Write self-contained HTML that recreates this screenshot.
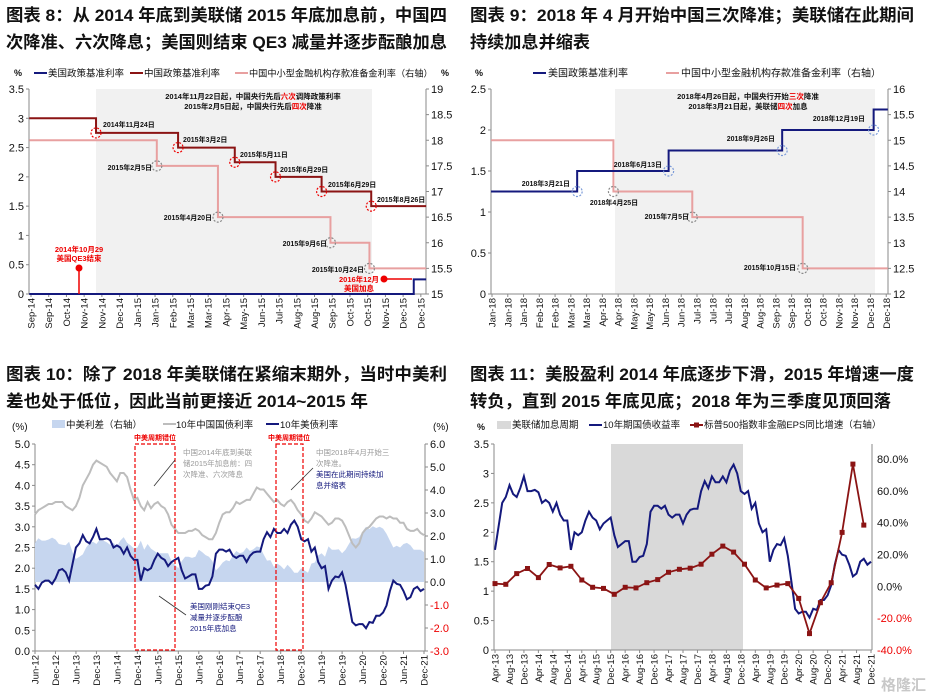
<!DOCTYPE html>
<html><head><meta charset="utf-8"><title>中美利率周期对比</title>
<style>
html,body{margin:0;padding:0;background:#fff;}
svg{display:block;font-family:"Liberation Sans","Noto Sans CJK SC",sans-serif;}
</style></head>
<body>
<svg id="root" width="928" height="699" viewBox="0 0 928 699" xmlns="http://www.w3.org/2000/svg">
<rect width="928" height="699" fill="#fff"/>
<g font-weight="bold" font-size="17" fill="#111">
<text x="6" y="21" textLength="441" lengthAdjust="spacingAndGlyphs">图表 8：从 2014 年底到美联储 2015 年底加息前，中国四</text>
<text x="6" y="48" textLength="441" lengthAdjust="spacingAndGlyphs">次降准、六次降息；美国则结束 QE3 减量并逐步酝酿加息</text>
<text x="470" y="21" textLength="444" lengthAdjust="spacingAndGlyphs">图表 9：2018 年 4 月开始中国三次降准；美联储在此期间</text>
<text x="470" y="48" textLength="120" lengthAdjust="spacingAndGlyphs">持续加息并缩表</text>
<text x="6" y="380" textLength="441" lengthAdjust="spacingAndGlyphs">图表 10：除了 2018 年美联储在紧缩末期外，当时中美利</text>
<text x="6" y="407" textLength="362" lengthAdjust="spacingAndGlyphs">差也处于低位，因此当前更接近 2014~2015 年</text>
<text x="470" y="380" textLength="444" lengthAdjust="spacingAndGlyphs">图表 11：美股盈利 2014 年底逐步下滑，2015 年增速一度</text>
<text x="470" y="407" textLength="421" lengthAdjust="spacingAndGlyphs">转负，直到 2015 年底见底；2018 年为三季度见顶回落</text>
</g>
</svg>
<script>
// ---------- chart 8 data ----------
const c8Labels=["Sep-14","Sep-14","Oct-14","Nov-14","Nov-14","Dec-14","Jan-15","Jan-15","Feb-15","Mar-15","Mar-15","Apr-15","May-15","Jun-15","Jul-15","Aug-15","Aug-15","Sep-15","Oct-15","Oct-15","Nov-15","Dec-15","Dec-15"];
const c8CnBreaks=[3.67,8.3,11.5,13.8,16.4,19.2];
const c8CnLevels=[3,2.75,2.5,2.25,2,1.75,1.5];
const c8RrrBreaks=[7.1,10.55,16.9,19.1];
const c8RrrLevels=[18,17.5,16.5,16,15.5];
const c8UsBreaks=[21.6];
const c8UsLevels=[0,0.25];
const c8LeftTicks=[0,0.5,1,1.5,2,2.5,3,3.5];
const c8RightTicks=[15,15.5,16,16.5,17,17.5,18,18.5,19];
// ---------- chart 9 data ----------
const c9Labels=["Jan-18","Jan-18","Jan-18","Feb-18","Feb-18","Mar-18","Mar-18","Apr-18","Apr-18","May-18","May-18","Jun-18","Jun-18","Jul-18","Jul-18","Jul-18","Aug-18","Aug-18","Sep-18","Sep-18","Oct-18","Oct-18","Nov-18","Nov-18","Dec-18","Dec-18"];
const c9UsBreaks=[5.4,11.2,18.4,24.2];
const c9UsLevels=[1.25,1.5,1.75,2,2.25];
const c9RrrBreaks=[7.7,12.7,19.7];
const c9RrrLevels=[15,14,13.5,12.5];
const c9LeftTicks=[0,0.5,1,1.5,2,2.5];
const c9RightTicks=[12,12.5,13,13.5,14,14.5,15,15.5,16];
// ---------- chart 10 data (monthly Jun-12 .. Dec-21) ----------
const c10Labels=["Jun-12","Dec-12","Jun-13","Dec-13","Jun-14","Dec-14","Jun-15","Dec-15","Jun-16","Dec-16","Jun-17","Dec-17","Jun-18","Dec-18","Jun-19","Dec-19","Jun-20","Dec-20","Jun-21","Dec-21"];
const usYield=[1.6,1.5,1.65,1.7,1.7,1.62,1.75,
1.95,1.98,1.9,1.7,2.1,2.5,2.6,2.8,2.65,2.6,2.75,2.95,
2.7,2.7,2.72,2.68,2.5,2.55,2.5,2.35,2.5,2.3,2.2,2.2,
1.7,2.0,1.95,2.0,2.2,2.35,2.25,2.2,2.05,2.15,2.2,2.25,
1.95,1.75,1.8,1.85,1.85,1.5,1.5,1.58,1.6,1.8,2.35,2.45,
2.45,2.4,2.45,2.3,2.25,2.3,2.3,2.15,2.3,2.38,2.4,2.4,
2.7,2.87,2.75,2.95,2.85,2.85,2.95,2.85,3.05,3.15,3.0,2.7,
2.65,2.7,2.4,2.5,2.15,2.0,2.05,1.5,1.7,1.8,1.78,1.9,
1.6,1.15,0.7,0.62,0.65,0.65,0.55,0.7,0.68,0.85,0.85,0.93,
1.1,1.45,1.7,1.62,1.6,1.45,1.25,1.3,1.5,1.55,1.45,1.5];
const cnYield=[3.3,3.4,3.45,3.5,3.55,3.55,3.6,
3.6,3.6,3.5,3.45,3.4,3.5,3.7,4.0,4.15,4.3,4.5,4.6,
4.55,4.5,4.45,4.3,4.2,4.1,4.3,4.3,4.2,3.9,3.65,3.7,
3.5,3.4,3.6,3.45,3.55,3.6,3.5,3.45,3.3,3.05,2.95,2.85,
2.85,2.85,2.9,2.9,2.95,2.9,2.8,2.75,2.7,2.7,2.85,3.1,
3.3,3.35,3.35,3.45,3.6,3.55,3.6,3.65,3.65,3.8,3.95,3.9,
3.9,3.8,3.7,3.6,3.65,3.55,3.5,3.6,3.65,3.55,3.4,3.3,
3.15,3.1,3.2,3.35,3.3,3.25,3.15,3.05,3.1,3.2,3.2,3.15,
3.0,2.8,2.6,2.5,2.6,2.85,2.95,3.0,3.1,3.2,3.25,3.25,
3.2,3.25,3.2,3.2,3.1,3.1,2.95,2.9,2.9,2.95,2.85,2.8];
const c10LeftTicks=[0,0.5,1,1.5,2,2.5,3,3.5,4,4.5,5];
const c10RightTicks=[-3,-2,-1,0,1,2,3,4,5,6];
// ---------- chart 11 data ----------
const c11Labels=["Apr-13","Aug-13","Dec-13","Apr-14","Aug-14","Dec-14","Apr-15","Aug-15","Dec-15","Apr-16","Aug-16","Dec-16","Apr-17","Aug-17","Dec-17","Apr-18","Aug-18","Dec-18","Apr-19","Aug-19","Dec-19","Apr-20","Aug-20","Dec-20","Apr-21","Aug-21","Dec-21"];
const epsGrowth=[1.7,1.3,8,11.2,5.5,13.7,11.6,12.6,4,-0.6,-1.3,-5,-0.6,-1,2.3,4.2,8.8,10.7,11.4,13.9,20.2,25.3,21.5,13.9,4,-1,0.8,1.7,-7.6,-29.7,-10.3,2.3,33.9,76.8,38.5];
const c11LeftTicks=[0,0.5,1,1.5,2,2.5,3,3.5];
const c11RightTicks=[-40,-20,0,20,40,60,80];

const NS='http://www.w3.org/2000/svg';
const svg=document.getElementById('root');
const NAVY='#14197d',DRED='#8b1414',PINK='#e8a0a0',GRAY='#bdbdbd',AX='#8a8a8a';
function mk(tag,attrs,name,parent){
  const el=document.createElementNS(NS,tag);
  for(const k in attrs)el.setAttribute(k,attrs[k]);
  
  
  (parent||svg).appendChild(el);return el;}
function txt(x,y,s,size,name,extra){
  const el=mk('text',Object.assign({x:x,y:y,'font-size':size,fill:'#111'},extra||{}),name);
  el.textContent=s;return el;}
function lin(d0,d1,r0,r1){return v=>r0+(v-d0)*(r1-r0)/(d1-d0);}
function fmt(v,d){return d==null?String(v):v.toFixed(d);}
function axes(L,R,T,B,name){
  mk('line',{x1:L,y1:T,x2:L,y2:B,stroke:AX,'stroke-width':1},name+'-left-axis');
  mk('line',{x1:R,y1:T,x2:R,y2:B,stroke:AX,'stroke-width':1},name+'-right-axis');
  mk('line',{x1:L,y1:B,x2:R,y2:B,stroke:AX,'stroke-width':1},name+'-x-axis');}
function yTicks(ticks,scale,x,side,name,dec,negRed){
  ticks.forEach(v=>{const y=scale(v);
    mk('line',{x1:side==='l'?x-3:x,y1:y,x2:side==='l'?x:x+3,y2:y,stroke:AX},name+'-tick');
    const lab=(negRed&&v<0)?{fill:'#e00'}:{};
    txt(side==='l'?x-5:x+5,y+4,fmt(v,dec),11,name+'-label',Object.assign({'text-anchor':side==='l'?'end':'start'},lab));});}
function xLabels(labels,xf,yB,name){
  labels.forEach((s,i)=>{const x=xf(i);
    mk('line',{x1:x,y1:yB,x2:x,y2:yB+3,stroke:AX},name+'-tick');
    txt(x+3.5,yB+4,s,9.5,name+'-label',{'text-anchor':'end',transform:'rotate(-90 '+(x+3.5)+' '+(yB+4)+')'});});}
function stepPath(breaks,levels,xs,ys,start,end){
  let d='M'+xs(start)+' '+ys(levels[0]);
  breaks.forEach((b,i)=>{d+=' H'+xs(b)+' V'+ys(levels[i+1]);});
  return d+' H'+xs(end);}
function dashCircle(x,y,col,name){mk('circle',{cx:x,cy:y,r:5,fill:'none',stroke:col,'stroke-width':1.2,'stroke-dasharray':'2 1.5'},name);}
function legLine(x,y,col,w,name){mk('line',{x1:x,y1:y,x2:x+13,y2:y,stroke:col,'stroke-width':w||2.5},name);}

// ================= CHART 8 =================
(function(){
  const L=29,R=426,T=89,B=294;
  const xs=lin(0,1,31,48.72), yl=lin(0,3.5,B,T), yr=lin(15,19,B,T);
  mk('rect',{x:96,y:T,width:276,height:B-T,fill:'#f1f1f1'},'c8-shade-easing-period');
  axes(L,R,T,B,'c8');
  yTicks(c8LeftTicks,yl,L,'l','c8-y-left');
  yTicks(c8RightTicks,yr,R,'r','c8-y-right');
  xLabels(c8Labels,xs,B,'c8-x');
  mk('path',{d:stepPath(c8RrrBreaks,c8RrrLevels,xs,yr,-0.1,22.3),fill:'none',stroke:PINK,'stroke-width':2},'c8-rrr-line');
  mk('path',{d:stepPath(c8CnBreaks,c8CnLevels,xs,yl,-0.1,22.3),fill:'none',stroke:DRED,'stroke-width':2},'c8-cn-policy-line');
  mk('path',{d:stepPath(c8UsBreaks,c8UsLevels,xs,yl,-0.1,22.3),fill:'none',stroke:NAVY,'stroke-width':2},'c8-us-policy-line');
  c8CnBreaks.forEach((b,i)=>dashCircle(xs(b),yl(c8CnLevels[i+1]),'#e00','c8-cn-cut-marker'));
  c8RrrBreaks.forEach((b,i)=>dashCircle(xs(b),yr(c8RrrLevels[i+1]),'#888','c8-rrr-cut-marker'));
  [["2014年11月24日",103,127],["2015年3月2日",183,142],["2015年5月11日",240,157],["2015年6月29日",280,172],["2015年6月29日",328,187],["2015年8月26日",377,202]].forEach(p=>txt(p[1],p[2],p[0],7,'c8-cn-date-note',{'font-weight':'bold'}));
  [["2015年2月5日",152,170],["2015年4月20日",212,220],["2015年9月6日",327,246],["2015年10月24日",364,272]].forEach(p=>txt(p[1],p[2],p[0],7,'c8-rrr-date-note',{'font-weight':'bold','text-anchor':'end'}));
  const n1=txt(253,99,'',7.5,'c8-header-note-1',{'font-weight':'bold','text-anchor':'middle'});
  n1.innerHTML='2014年11月22日起，中国央行先后<tspan fill="#e00">六次</tspan>调降政策利率';
  const n2=txt(253,109,'',7.5,'c8-header-note-2',{'font-weight':'bold','text-anchor':'middle'});
  n2.innerHTML='2015年2月5日起，中国央行先后<tspan fill="#e00">四次</tspan>降准';
  mk('line',{x1:79,y1:268,x2:79,y2:B,stroke:'#e00','stroke-width':1.5},'c8-qe3-end-stem');
  mk('circle',{cx:79,cy:268,r:3.5,fill:'#e00'},'c8-qe3-end-dot');
  txt(79,252,'2014年10月29',7.5,'c8-qe3-note',{'font-weight':'bold','text-anchor':'middle',fill:'#e00'});
  txt(79,261,'美国QE3结束',7.5,'c8-qe3-note',{'font-weight':'bold','text-anchor':'middle',fill:'#e00'});
  mk('line',{x1:384,y1:279,x2:412,y2:279,stroke:'#e00','stroke-width':1.5},'c8-hike-stem');
  mk('circle',{cx:384,cy:279,r:3.5,fill:'#e00'},'c8-hike-dot');
  txt(359,282,'2016年12月',7.5,'c8-hike-note',{'font-weight':'bold','text-anchor':'middle',fill:'#e00'});
  txt(359,291,'美国加息',7.5,'c8-hike-note',{'font-weight':'bold','text-anchor':'middle',fill:'#e00'});
  txt(14,76,'%',9,'c8-left-unit',{'font-weight':'bold'});
  txt(441,76,'%',9,'c8-right-unit',{'font-weight':'bold'});
  legLine(34,73,NAVY,2,'c8-legend-us-swatch'); txt(48,76.5,'美国政策基准利率',9.5,'c8-legend-us');
  legLine(130,73,DRED,2,'c8-legend-cn-swatch'); txt(144,76.5,'中国政策基准利率',9.5,'c8-legend-cn');
  legLine(235,73,PINK,2,'c8-legend-rrr-swatch'); txt(249,76.5,'中国中小型金融机构存款准备金利率（右轴）',9.2,'c8-legend-rrr');
})();

// ================= CHART 9 =================
(function(){
  const L=491,R=888,T=89,B=294;
  const xs=lin(0,1,492,507.77), yl=lin(0,2.5,B,T), yr=lin(12,16,B,T);
  mk('rect',{x:615,y:T,width:260,height:B-T,fill:'#f1f1f1'},'c9-shade-period');
  axes(L,R,T,B,'c9');
  yTicks(c9LeftTicks,yl,L,'l','c9-y-left');
  yTicks(c9RightTicks,yr,R,'r','c9-y-right');
  xLabels(c9Labels,xs,B,'c9-x');
  mk('path',{d:stepPath(c9RrrBreaks,c9RrrLevels,xs,yr,-0.06,25.1),fill:'none',stroke:PINK,'stroke-width':2},'c9-rrr-line');
  mk('path',{d:stepPath(c9UsBreaks,c9UsLevels,xs,yl,-0.06,25.1),fill:'none',stroke:NAVY,'stroke-width':2},'c9-us-policy-line');
  c9UsBreaks.forEach((b,i)=>dashCircle(xs(b),yl(c9UsLevels[i]),'#7a9ad8','c9-us-hike-marker'));
  c9RrrBreaks.forEach((b,i)=>dashCircle(xs(b),yr(c9RrrLevels[i+1]),'#888','c9-rrr-cut-marker'));
  [["2018年3月21日",570,186],["2018年6月13日",662,167],["2018年9月26日",775,141],["2018年12月19日",865,121],["2015年7月5日",689,219],["2015年10月15日",796,270]].forEach(p=>txt(p[1],p[2],p[0],7,'c9-date-note',{'font-weight':'bold','text-anchor':'end'}));
  txt(614,205,'2018年4月25日',7,'c9-date-note',{'font-weight':'bold','text-anchor':'middle'});
  const n1=txt(748,99,'',7.5,'c9-header-note-1',{'font-weight':'bold','text-anchor':'middle'});
  n1.innerHTML='2018年4月26日起，中国央行开始<tspan fill="#e00">三次</tspan>降准';
  const n2=txt(748,109,'',7.5,'c9-header-note-2',{'font-weight':'bold','text-anchor':'middle'});
  n2.innerHTML='2018年3月21日起，美联储<tspan fill="#e00">四次</tspan>加息';
  txt(475,76,'%',9,'c9-left-unit',{'font-weight':'bold'});
  legLine(533,73,NAVY,2,'c9-legend-us-swatch'); txt(548,76.5,'美国政策基准利率',10,'c9-legend-us');
  legLine(666,73,PINK,2,'c9-legend-rrr-swatch'); txt(681,76.5,'中国中小型金融机构存款准备金利率（右轴）',10,'c9-legend-rrr');
})();

// ================= CHART 10 =================
(function(){
  const L=35,R=425,T=444,B=651;
  const xs=lin(0,114,35,424), yl=lin(0,5,B,T), yr=lin(-3,6,B,T);
  axes(L,R,T,B,'c10');
  let d='M'+xs(0)+' '+yr(0);
  cnYield.forEach((v,i)=>{d+=' L'+xs(i).toFixed(1)+' '+yr(v-usYield[i]).toFixed(1);});
  d+=' L'+xs(114)+' '+yr(0)+' Z';
  mk('path',{d:d,fill:'#c6d6ef',stroke:'none'},'c10-spread-area');
  yTicks(c10LeftTicks,yl,L,'l','c10-y-left',1);
  yTicks(c10RightTicks,yr,R,'r','c10-y-right',1,true);
  c10Labels.forEach((s,i)=>{const x=xs(i*6);
    mk('line',{x1:x,y1:B,x2:x,y2:B+3,stroke:AX},'c10-x-tick');
    txt(x+3.5,B+4,s,9.5,'c10-x-label',{'text-anchor':'end',transform:'rotate(-90 '+(x+3.5)+' '+(B+4)+')'});});
  mk('polyline',{points:cnYield.map((v,i)=>xs(i).toFixed(1)+','+yl(v).toFixed(1)).join(' '),fill:'none',stroke:GRAY,'stroke-width':2},'c10-cn-10y-line');
  mk('polyline',{points:usYield.map((v,i)=>xs(i).toFixed(1)+','+yl(v).toFixed(1)).join(' '),fill:'none',stroke:NAVY,'stroke-width':2},'c10-us-10y-line');
  mk('rect',{x:135,y:444,width:40,height:206,fill:'none',stroke:'#e00','stroke-width':1.2,'stroke-dasharray':'4 2'},'c10-mismatch-box-1');
  mk('rect',{x:276,y:444,width:27,height:206,fill:'none',stroke:'#e00','stroke-width':1.2,'stroke-dasharray':'4 2'},'c10-mismatch-box-2');
  txt(155,440,'中美周期错位',7,'c10-mismatch-label',{'text-anchor':'middle',fill:'#e00','font-weight':'bold'});
  txt(289,440,'中美周期错位',7,'c10-mismatch-label',{'text-anchor':'middle',fill:'#e00','font-weight':'bold'});
  ['中国2014年底到美联','储2015年加息前：四','次降准、六次降息'].forEach((s,i)=>txt(183,455+i*11,s,7.5,'c10-note-2014',{fill:'#999'}));
  ['中国2018年4月开始三','次降准。'].forEach((s,i)=>txt(316,455+i*11,s,7.5,'c10-note-2018',{fill:'#999'}));
  ['美国在此期间持续加','息并缩表'].forEach((s,i)=>txt(316,477+i*11,s,7.5,'c10-note-2018-us',{fill:NAVY}));
  ['美国刚刚结束QE3','减量并逐步酝酿','2015年底加息'].forEach((s,i)=>txt(190,609+i*11,s,7.5,'c10-note-qe3',{fill:NAVY}));
  mk('line',{x1:175,y1:460,x2:154,y2:486,stroke:'#333','stroke-width':0.8},'c10-arrow-1');
  mk('line',{x1:313,y1:468,x2:291,y2:490,stroke:'#333','stroke-width':0.8},'c10-arrow-2');
  mk('line',{x1:186,y1:615,x2:159,y2:596,stroke:'#333','stroke-width':0.8},'c10-arrow-3');
  txt(12,430,'(%)',10,'c10-left-unit');
  txt(433,430,'(%)',10,'c10-right-unit');
  mk('rect',{x:52,y:420,width:13,height:8,fill:'#c6d6ef'},'c10-legend-spread-swatch'); txt(66,428,'中美利差（右轴）',9.5,'c10-legend-spread');
  legLine(163,424,GRAY,2,'c10-legend-cn-swatch'); txt(176,428,'10年中国国债利率',9.5,'c10-legend-cn');
  legLine(266,424,NAVY,2,'c10-legend-us-swatch'); txt(280,428,'10年美债利率',9.5,'c10-legend-us');
})();

// ================= CHART 11 =================
(function(){
  const L=494,R=872,T=444,B=650;
  const xs=lin(0,104,495,871), yl=lin(0,3.5,B,T), yr=lin(80,-40,459,650);
  mk('rect',{x:611,y:T,width:132,height:B-T,fill:'#d9d9d9'},'c11-shade-hike-cycle');
  axes(L,R,T,B,'c11');
  yTicks(c11LeftTicks,yl,L,'l','c11-y-left');
  c11RightTicks.forEach(v=>{const y=yr(v);
    txt(R+5,y+4,v.toFixed(1)+'%',11,'c11-y-right-label',{fill:v<0?'#e00':'#111'});});
  c11Labels.forEach((s,i)=>{const x=xs(i*4);
    mk('line',{x1:x,y1:B,x2:x,y2:B+3,stroke:AX},'c11-x-tick');
    txt(x+3.5,B+4,s,9.5,'c11-x-label',{'text-anchor':'end',transform:'rotate(-90 '+(x+3.5)+' '+(B+4)+')'});});
  const us=usYield.slice(10);
  mk('polyline',{points:us.map((v,i)=>xs(i).toFixed(1)+','+yl(v).toFixed(1)).join(' '),fill:'none',stroke:NAVY,'stroke-width':2},'c11-us-10y-line');
  mk('polyline',{points:epsGrowth.map((v,i)=>xs(i*3).toFixed(1)+','+yr(v).toFixed(1)).join(' '),fill:'none',stroke:DRED,'stroke-width':1.8},'c11-eps-line');
  epsGrowth.forEach((v,i)=>{
    mk('rect',{x:(xs(i*3)-2.5).toFixed(1),y:(yr(v)-2.5).toFixed(1),width:5,height:5,fill:DRED},'c11-eps-point');
  });
  txt(477,430,'%',9,'c11-left-unit',{'font-weight':'bold'});
  mk('rect',{x:497,y:421,width:14,height:8,fill:'#d9d9d9'},'c11-legend-shade-swatch'); txt(512,428,'美联储加息周期',9.5,'c11-legend-shade');
  legLine(589,425,NAVY,2,'c11-legend-us-swatch'); txt(603,428,'10年期国债收益率',9.5,'c11-legend-us');
  legLine(690,425,DRED,2,'c11-legend-eps-swatch');
  mk('rect',{x:694,y:422.5,width:5,height:5,fill:DRED},'c11-legend-eps-marker');
  txt(704,428,'标普500指数非金融EPS同比增速（右轴）',9.5,'c11-legend-eps');
  txt(926,690,'格隆汇',15,'watermark',{'text-anchor':'end',fill:'#c8c8c8','font-weight':'bold'});
})();
</script>
</body></html>
